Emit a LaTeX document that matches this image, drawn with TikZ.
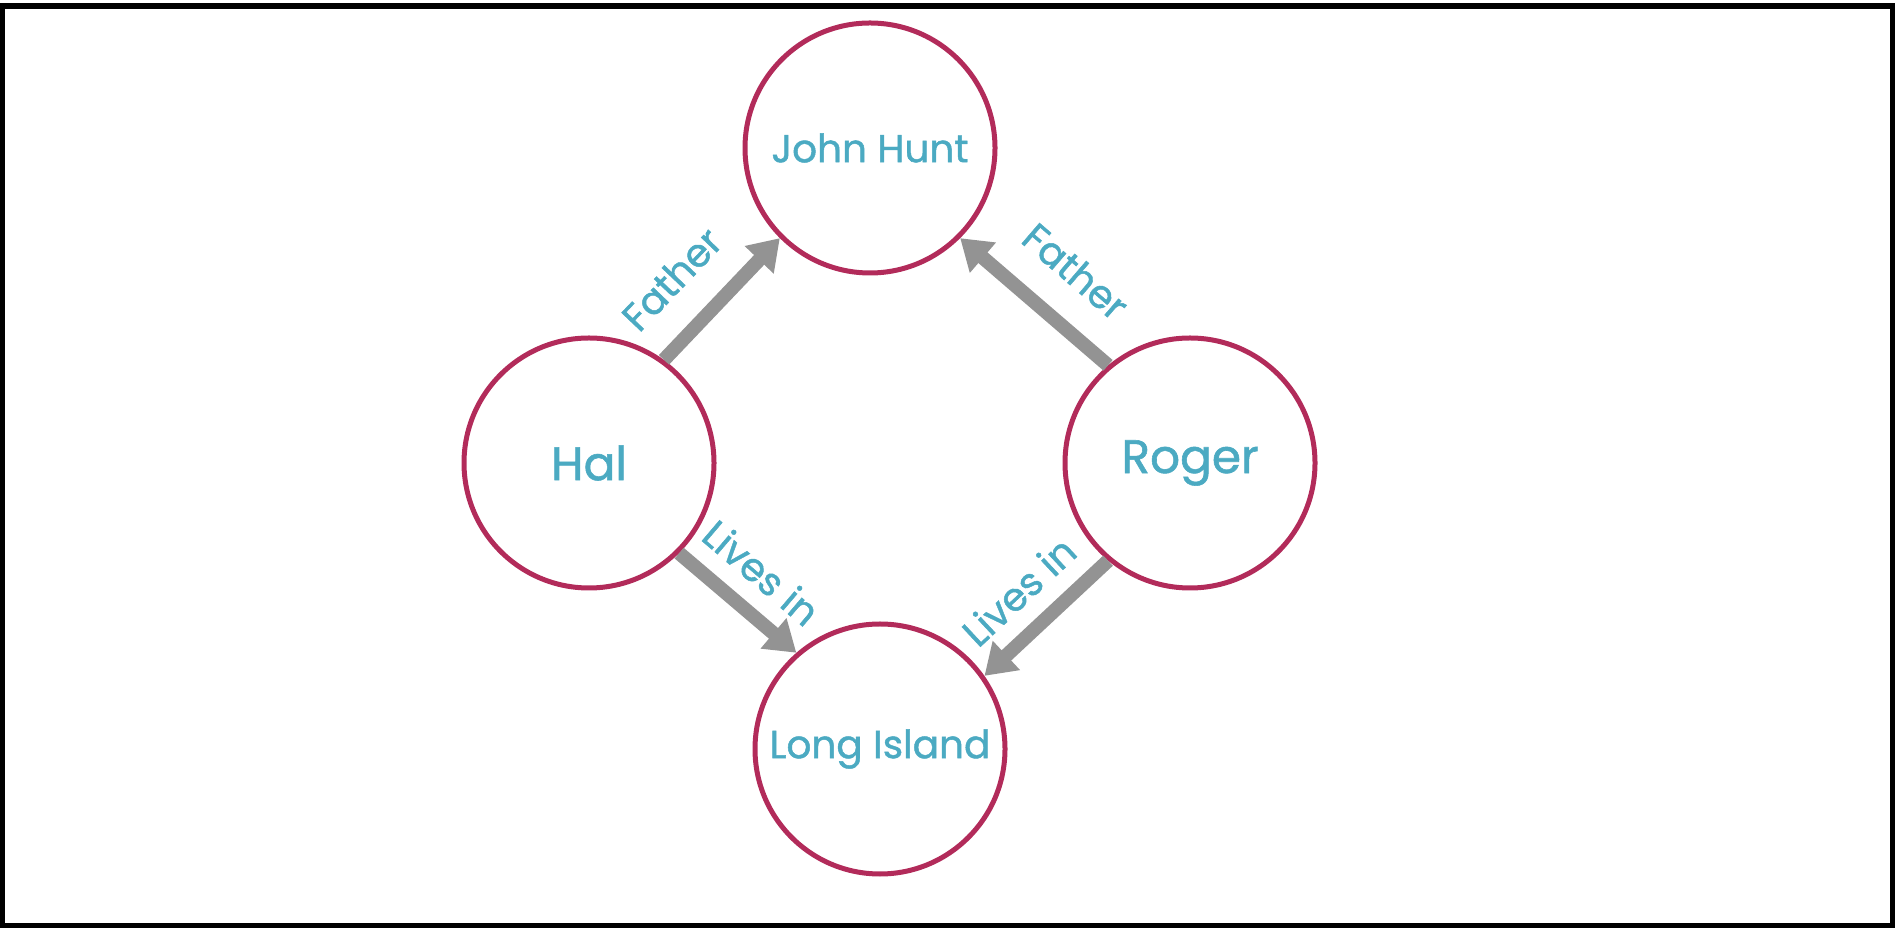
\documentclass[tikz,border=0pt]{standalone}
\usepackage{fontspec}
\setmainfont{Poppins}[FakeBold=1.2]
\usetikzlibrary{positioning, arrows.meta}
\definecolor{PersonRed}{HTML}{B22B5A}
\definecolor{LabelTeal}{HTML}{4BAAC2}
\definecolor{EdgeGray}{HTML}{939393}

\begin{document}
\begin{tikzpicture}[
  x=0.5pt, y=0.5pt,
  ent/.style={circle, draw=PersonRed, line width=2.5pt, minimum size=125pt,
    inner sep=0pt, text=LabelTeal, font=\fontsize{19.5}{22}\selectfont},
  bigent/.style={font=\fontsize{23.5}{26}\selectfont},
  rel/.style={-{Triangle[length=15pt, width=19pt]}, line width=7pt, EdgeGray},
  lbl/.style={text=LabelTeal, font=\fontsize{19.5}{22}\selectfont, sloped},
]
  \useasboundingbox (0,0) rectangle (1899,931);
  \draw[line width=2.75pt] (2,5.5) rectangle (1892.5,925);

  \node[ent] (john) at (870,783) {John Hunt};
  \node[ent, bigent] (hal) at (589,468) {Hal};
  \node[ent, bigent] (roger) at (1190,468) {Roger};
  \node[ent] (island) at (880,182) {Long Island};

  % Father edges
  \draw[rel] (hal.54) -- node[lbl, pos=0.38, above=11pt] {Father} (john.225);
  \draw[rel] (roger.130) -- node[lbl, pos=0.44, above=11pt] {Father} (john.315);

  % Lives in edges
  \draw[rel] (hal.315) -- node[lbl, pos=0.49, above=5pt] {Lives in} (island.131);
  \draw[rel] (roger.230) -- node[lbl, pos=0.51, above=5pt] {Lives in} (island.35);
\end{tikzpicture}
\end{document}
